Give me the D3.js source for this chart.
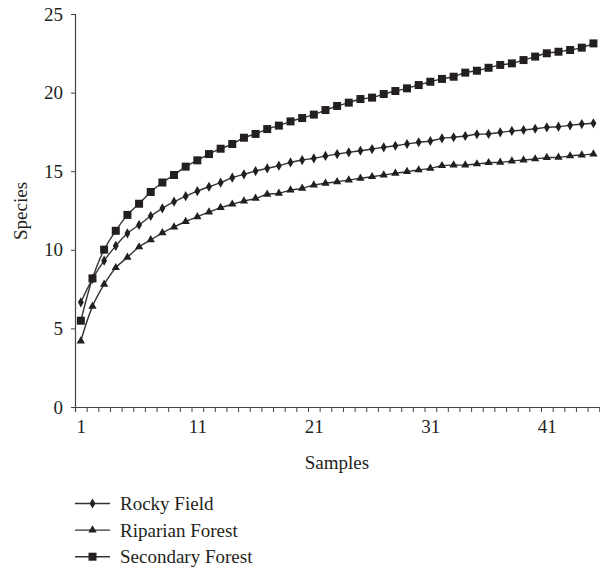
<!DOCTYPE html>
<html>
<head>
<meta charset="utf-8">
<script src="https://cdn.jsdelivr.net/npm/d3@7"></script>
<style>
  body { margin: 0; background: #fff; }
  text { font-family: "Liberation Serif", "DejaVu Serif", serif; fill: #231f20; }
</style>
</head>
<body>
<script>
var w = 600;
var h = 569;

// samples 1..45 (axis runs to 46, cut by the frame)
var samples = d3.range(1, 46);
var xLabels = [1, 11, 21, 31, 41];
var yTicks = [0, 5, 10, 15, 20, 25];

var rockyField = [6.66, 8.15, 9.31, 10.25, 11.05, 11.58, 12.15, 12.64, 13.06, 13.41,
  13.73, 14.01, 14.27, 14.59, 14.8, 15.01, 15.18, 15.35, 15.56, 15.71,
  15.82, 15.97, 16.09, 16.2, 16.3, 16.41, 16.52, 16.62, 16.73, 16.84,
  16.92, 17.09, 17.16, 17.24, 17.35, 17.37, 17.47, 17.56, 17.62, 17.7,
  17.79, 17.83, 17.92, 18.0, 18.05];
var riparianForest = [4.2, 6.4, 7.8, 8.86, 9.52, 10.18, 10.63, 11.08, 11.45, 11.8,
  12.1, 12.4, 12.68, 12.9, 13.1, 13.27, 13.53, 13.59, 13.8, 13.91,
  14.12, 14.23, 14.33, 14.44, 14.55, 14.65, 14.76, 14.87, 14.97, 15.08,
  15.18, 15.35, 15.39, 15.39, 15.46, 15.54, 15.56, 15.65, 15.71, 15.78,
  15.86, 15.88, 15.97, 16.03, 16.09];
var secondaryForest = [5.49, 8.18, 10.01, 11.21, 12.22, 12.93, 13.68, 14.28, 14.76, 15.29,
  15.69, 16.09, 16.43, 16.73, 17.13, 17.37, 17.68, 17.9, 18.17, 18.38,
  18.6, 18.89, 19.15, 19.36, 19.59, 19.68, 19.91, 20.1, 20.27, 20.48,
  20.69, 20.87, 21.01, 21.27, 21.39, 21.58, 21.76, 21.86, 22.07, 22.29,
  22.5, 22.6, 22.71, 22.86, 23.13];

var seriesNames = ['Rocky Field', 'Riparian Forest', 'Secondary Forest'];
var seriesValues = [rockyField, riparianForest, secondaryForest];
var symbols = [d3.symbolDiamond, d3.symbolTriangle, d3.symbolSquare];
var symSizes = [30, 30, 64];

var svg = d3.select('body').append('svg')
    .attr('width', w)
    .attr('height', h);

var x = d3.scaleLinear().domain([0.5, 46.5]).range([75, 610.9]);
var y = d3.scaleLinear().domain([0, 25]).range([407, 14]);

// y axis
var yAxis = svg.append('g')
    .attr('transform', 'translate(75,0)')
    .call(d3.axisLeft(y).tickValues(yTicks).tickSize(4).tickPadding(8));
yAxis.select('.domain').attr('stroke', '#444').attr('stroke-width', 1.2);
yAxis.selectAll('.tick line').attr('stroke', '#444');
yAxis.selectAll('text').style('font-size', '19px').attr('fill', '#231f20');

// x axis tick marks between categories
var xTickVals = d3.range(0.5, 46.5, 1);
var xAxis = svg.append('g')
    .attr('transform', 'translate(0,407)')
    .call(d3.axisBottom(x).tickValues(xTickVals).tickSize(5).tickFormat(''));
xAxis.select('.domain').attr('stroke', '#444').attr('stroke-width', 1.2);
xAxis.selectAll('.tick line').attr('stroke', '#444');

var xLab = svg.append('g')
    .attr('transform', 'translate(0,407)')
    .call(d3.axisBottom(x).tickValues(xLabels).tickSize(0).tickPadding(13));
xLab.select('.domain').remove();
xLab.selectAll('text').style('font-size', '19px').attr('fill', '#231f20');

// axis titles
svg.append('text')
    .attr('x', 337)
    .attr('y', 469)
    .attr('text-anchor', 'middle')
    .style('font-size', '19px')
    .text('Samples');

svg.append('text')
    .attr('transform', 'translate(27,211) rotate(-90)')
    .attr('text-anchor', 'middle')
    .style('font-size', '19px')
    .text('Species');

var line = d3.line()
    .x(function(d, i){ return x(samples[i]); })
    .y(function(d){ return y(d); })
    .curve(d3.curveCatmullRom.alpha(0.5));

seriesValues.forEach(function(vals, k){
  svg.append('path')
      .datum(vals)
      .attr('d', line)
      .attr('fill', 'none')
      .attr('stroke', '#333')
      .attr('stroke-width', 1.4);

  svg.append('g').selectAll('path')
      .data(vals)
      .enter().append('path')
      .attr('d', d3.symbol().type(symbols[k]).size(symSizes[k]))
      .attr('transform', function(d, i){
        return 'translate(' + x(samples[i]) + ',' + y(d) + ')';
      })
      .attr('fill', '#231f20');
});

// legend
var legend = svg.append('g');
seriesNames.forEach(function(name, k){
  var ly = 503.5 + k * 26.6;
  legend.append('line')
      .attr('x1', 75).attr('x2', 110)
      .attr('y1', ly).attr('y2', ly)
      .attr('stroke', '#333')
      .attr('stroke-width', 1.4);
  legend.append('path')
      .attr('d', d3.symbol().type(symbols[k]).size(symSizes[k]))
      .attr('transform', 'translate(92.5,' + ly + ')')
      .attr('fill', '#231f20');
  legend.append('text')
      .attr('x', 120)
      .attr('y', ly + 6.5)
      .style('font-size', '19px')
      .text(name);
});
</script>
</body>
</html>
